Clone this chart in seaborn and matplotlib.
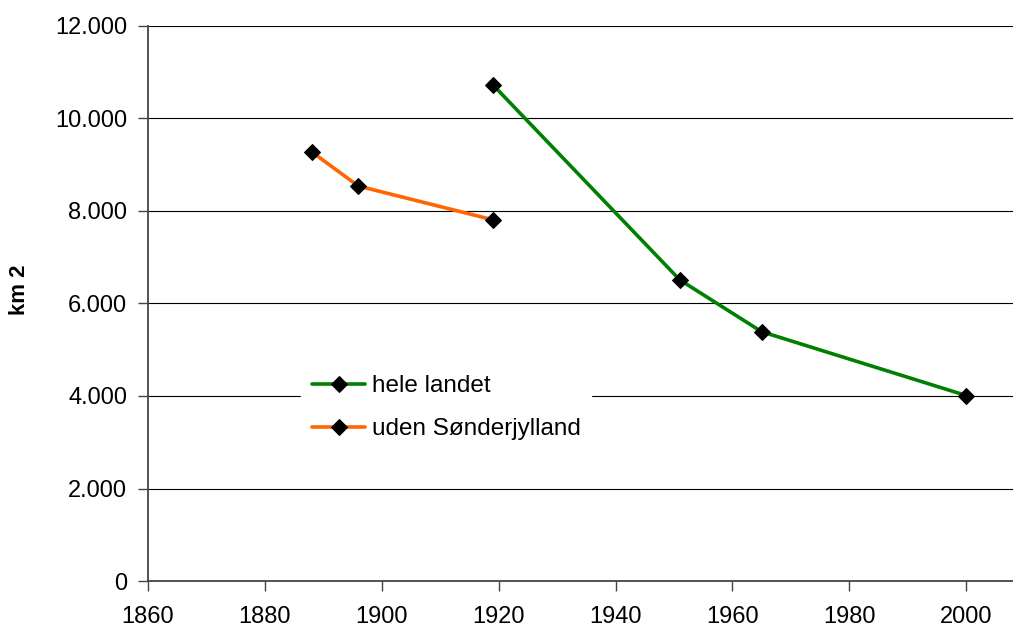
import matplotlib
matplotlib.use("Agg")
import matplotlib.pyplot as plt
import matplotlib.ticker as mticker
import pandas as pd
import seaborn as sns

# data
years_hele = [1919, 1951, 1965, 2000]
area_hele = [10730, 6510, 5390, 4010]
years_uden = [1888, 1896, 1919]
area_uden = [9280, 8540, 7810]
series_names = ["hele landet", "uden Sønderjylland"]
series_colors = ["#008000", "#FF6600"]

df = pd.concat([
    pd.DataFrame({"year": years_hele, "km2": area_hele, "serie": series_names[0]}),
    pd.DataFrame({"year": years_uden, "km2": area_uden, "serie": series_names[1]}),
])

sns.set_style("white")
plt.rcParams["font.family"] = ["Liberation Sans", "DejaVu Sans"]
plt.rcParams["text.color"] = "black"

fig = plt.figure(figsize=(10.13, 6.29), dpi=100)
ax = fig.add_axes([0.146, 0.0763, 0.854, 0.8824])

sns.lineplot(data=df, x="year", y="km2", hue="serie", hue_order=series_names,
             palette=series_colors, marker="D", markersize=8.5,
             markerfacecolor="black", markeredgecolor="black",
             linewidth=2.6, ax=ax, sort=False)

ax.set_xlim(1860, 2008)
ax.set_ylim(0, 12000)
ax.set_xticks(range(1860, 2001, 20))
ax.set_yticks(range(0, 12001, 2000))
ax.yaxis.set_major_formatter(mticker.FuncFormatter(lambda v, p: f"{int(v):,}".replace(",", ".")))
ax.grid(axis="y", color="black", linewidth=0.8)
ax.set_axisbelow(True)
for s in ["top", "right"]:
    ax.spines[s].set_visible(False)
for s in ["left", "bottom"]:
    ax.spines[s].set_color("#444444")
    ax.spines[s].set_linewidth(1.3)
ax.tick_params(axis="both", direction="out", length=7, width=1, color="#444444",
               labelsize=17, labelcolor="black", left=True, bottom=True)
ax.tick_params(axis="x", pad=11)
ax.tick_params(axis="y", pad=8)
ax.set_xlabel("")
ax.set_ylabel("km 2", fontsize=16, fontweight="bold", color="black")
ax.yaxis.set_label_coords(-0.136, 0.524)

leg = ax.legend(loc="upper left", bbox_to_anchor=(0.177, 0.39), frameon=True,
                fontsize=17.5, handlelength=2.2, handletextpad=0.25,
                borderpad=0.45, labelspacing=0.85, borderaxespad=0)
leg.get_frame().set_facecolor("white")
leg.get_frame().set_edgecolor("white")
leg.get_frame().set_alpha(1)
leg.get_frame().set_boxstyle("square", pad=0)

plt.savefig("out.png", dpi=100)
